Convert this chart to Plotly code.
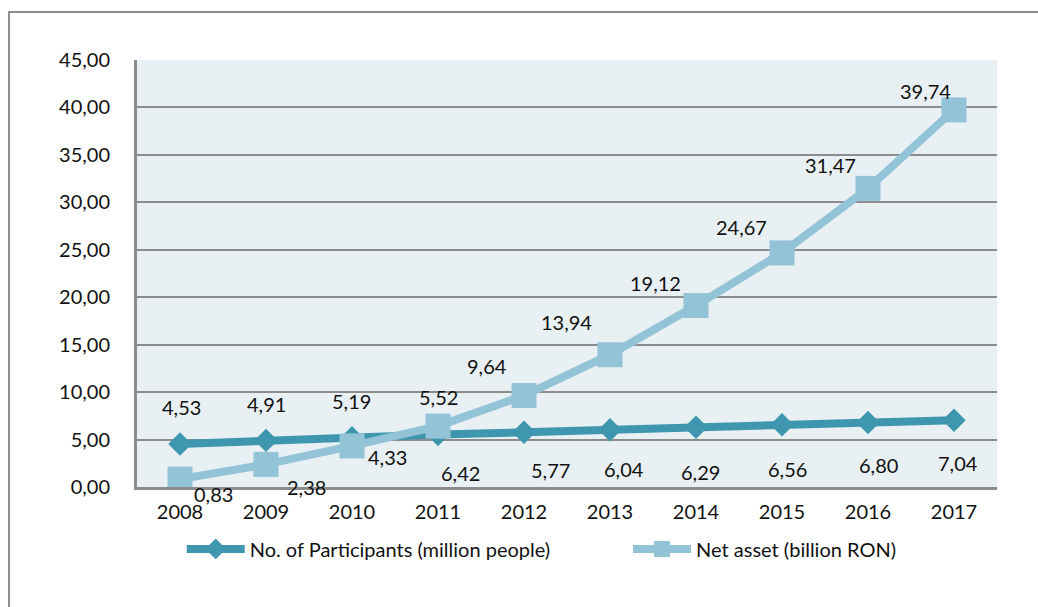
import plotly.graph_objects as go

years = ["2008", "2009", "2010", "2011", "2012", "2013", "2014", "2015", "2016", "2017"]
participants = [4.53, 4.91, 5.19, 5.52, 5.77, 6.04, 6.29, 6.56, 6.80, 7.04]
net_asset = [0.83, 2.38, 4.33, 6.42, 9.64, 13.94, 19.12, 24.67, 31.47, 39.74]
y_ticks = [0, 5, 10, 15, 20, 25, 30, 35, 40, 45]

# label offsets (pixels) relative to the marker
part_off = [(1, -37), (0, -36), (-1, -37), (0, -38), (26, 38), (14, 39), (4, 45), (5, 44), (10, 43), (4, 43)]
net_off = [(33, 15), (40, 23), (35, 11), (22, 47), (-37, -30), (-44, -33), (-41, -23), (-41, -26), (-38, -23), (-29, -19)]

dark = "#3E97AF"
light = "#92C3D6"
FONT = "Lato"
FS = 20

fig = go.Figure()
fig.add_trace(go.Scatter(
    x=years, y=participants, mode="lines+markers",
    name="No. of Participants (million people)",
    line=dict(color=dark, width=8),
    marker=dict(symbol="diamond", size=18, color=dark),
    legend="legend",
))
fig.add_trace(go.Scatter(
    x=years, y=net_asset, mode="lines+markers",
    name="Net asset (billion RON)",
    line=dict(color=light, width=8),
    marker=dict(symbol="square", size=25, color=light),
    legend="legend2",
))

def fmt(v):
    return f"{v:.2f}".replace(".", ",")

ann = []
for i, (v, (dx, dy)) in enumerate(zip(participants, part_off)):
    ann.append(dict(x=i, y=v, xref="x", yref="y", text=fmt(v), showarrow=False,
                    xshift=dx, yshift=-dy, font=dict(family=FONT, size=FS, color="#111")))
for i, (v, (dx, dy)) in enumerate(zip(net_asset, net_off)):
    ann.append(dict(x=i, y=v, xref="x", yref="y", text=fmt(v), showarrow=False,
                    xshift=dx, yshift=-dy, font=dict(family=FONT, size=FS, color="#111")))

leg_common = dict(orientation="h", xanchor="left", y=-0.145, yanchor="middle",
                  font=dict(family=FONT, size=FS, color="#111"), itemwidth=58,
                  bgcolor="rgba(0,0,0,0)")

fig.update_layout(
    width=1038, height=607,
    margin=dict(l=137, r=41, t=60, b=120),
    paper_bgcolor="white",
    plot_bgcolor="#E9F0F4",
    separators=", ",
    font=dict(family=FONT, size=FS, color="#111"),
    annotations=ann,
    showlegend=True,
    legend=dict(x=0.052, **leg_common),
    legend2=dict(x=0.571, **leg_common),
    shapes=[dict(type="rect", xref="paper", yref="paper",
                 x0=-0.1488, x1=1.3, y0=-0.4, y1=1.1124,
                 line=dict(color="#8C8C8C", width=2), fillcolor="rgba(0,0,0,0)", layer="below")],
)
fig.update_xaxes(
    type="category", range=[-0.5, 9.5],
    showgrid=False, showline=True, linecolor="#8C8C8C", linewidth=3,
    ticks="", tickfont=dict(family=FONT, size=FS, color="#111"),
    ticklabelstandoff=5,
)
fig.update_yaxes(
    range=[0, 45], tickvals=y_ticks, tickformat=".2f",
    showgrid=True, gridcolor="#8C8C8C", gridwidth=2,
    showline=True, linecolor="#8C8C8C", linewidth=3,
    zeroline=False, ticks="",
    tickfont=dict(family=FONT, size=FS, color="#111"),
    ticklabelstandoff=20,
)

fig.write_html("out.html")
